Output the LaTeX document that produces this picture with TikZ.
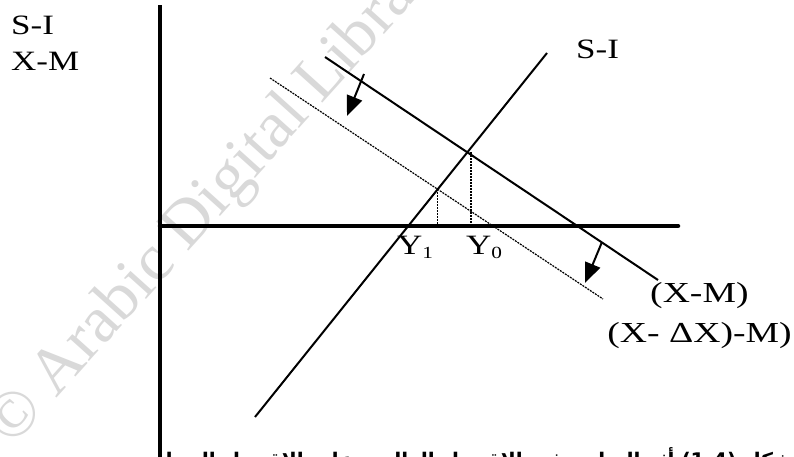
\documentclass[tikz,border=0pt]{standalone}
\usepackage{fontspec}
\setmainfont{Liberation Serif}
\newfontfamily\labfont[FakeStretch=1.25]{Liberation Serif}
\newfontfamily\widefont[FakeStretch=1.3]{Liberation Serif}
\newfontfamily\arabicfont[Script=Arabic]{DejaVu Sans}
\TeXXeTstate=1
\usetikzlibrary{arrows.meta}
\newcommand{\subone}[1]{\raisebox{-4pt}{\fontsize{17}{17}\selectfont #1}}
\begin{document}
\begin{tikzpicture}[x=1pt,y=-1pt,
  lab/.style={font=\labfont\fontsize{28}{30}\selectfont, inner sep=0pt},
  biglab/.style={font=\widefont\fontsize{29}{31}\selectfont, inner sep=0pt},
  axisline/.style={line width=4.5pt},
  curve/.style={line width=2pt},
  shifted/.style={line width=1.2pt, dash pattern=on 2pt off 1pt},
  drop/.style={line width=1.5pt, dash pattern=on 1.5pt off 1.5pt},
  shiftarrow/.style={line width=2pt, -{Triangle[length=20pt,width=16pt]}},
  wmark/.style={font=\fontsize{66}{70}\selectfont, text=black!15, inner sep=0pt, rotate=48}
]
\useasboundingbox (0,0) rectangle (794,456);
\clip (0,0) rectangle (794,456);
\fill[white] (0,0) rectangle (794,456);
% watermark
\node[wmark, anchor=base west] (wm) at (12,448) {\textcopyright{} Arabic Digital Library};
% axes
\coordinate (O) at (160,226);
\coordinate (ytop) at (160,5);
\coordinate (ybot) at (160,460);
\coordinate (xend) at (678,226);
\draw[axisline] (ybot) -- (ytop);
\draw[axisline, line cap=round] (O) -- (xend);
% lines
\coordinate (si1) at (255,417);
\coordinate (si2) at (547,53);
\coordinate (xm1) at (325,57);
\coordinate (xm2) at (658,280);
\coordinate (dx1) at (270,78);
\coordinate (dx2) at (603,299);
\draw[curve] (si1) -- (si2);
\draw[curve] (xm1) -- (xm2);
\draw[shifted] (dx1) -- (dx2);
% equilibria
\coordinate (E0) at (471,152);
\coordinate (E1) at (437.7,189.2);
\draw[drop] (E0) -- (E0 |- O);
\draw[drop] (E1) -- (E1 |- O);
% arrows
\coordinate (a1s) at (364,74);
\coordinate (a1e) at (347,116);
\coordinate (a2s) at (602,242);
\coordinate (a2e) at (585,283);
\draw[shiftarrow] (a1s) -- (a1e);
\draw[shiftarrow] (a2s) -- (a2e);
% labels
\node[lab, anchor=base west] (lsi) at (11,34) {S-I};
\node[lab, anchor=base west] (lxm) at (11,70) {X-M};
\node[lab, anchor=base west] (rsi) at (576,58) {S-I};
\node[lab, anchor=base west] (y1) at (397,254) {Y\subone{1}};
\node[lab, anchor=base west] (y0) at (466,254) {Y\subone{0}};
\node[biglab, anchor=base west] (lxmr) at (650,302) {(X-M)};
\node[biglab, anchor=base east] (lxdx) at (792,342) {(X- ΔX)-M)};
% caption (cut by the page edge)
\node[anchor=base east, inner sep=0pt] (cap) at (793,467) {\resizebox{648pt}{!}{\arabicfont\bfseries\beginR شكل \beginL(1-4)\endL{} أثر التراجع في الاقتصاد العالمي على الاقتصاد المحلي\endR}};
\end{tikzpicture}
\end{document}
